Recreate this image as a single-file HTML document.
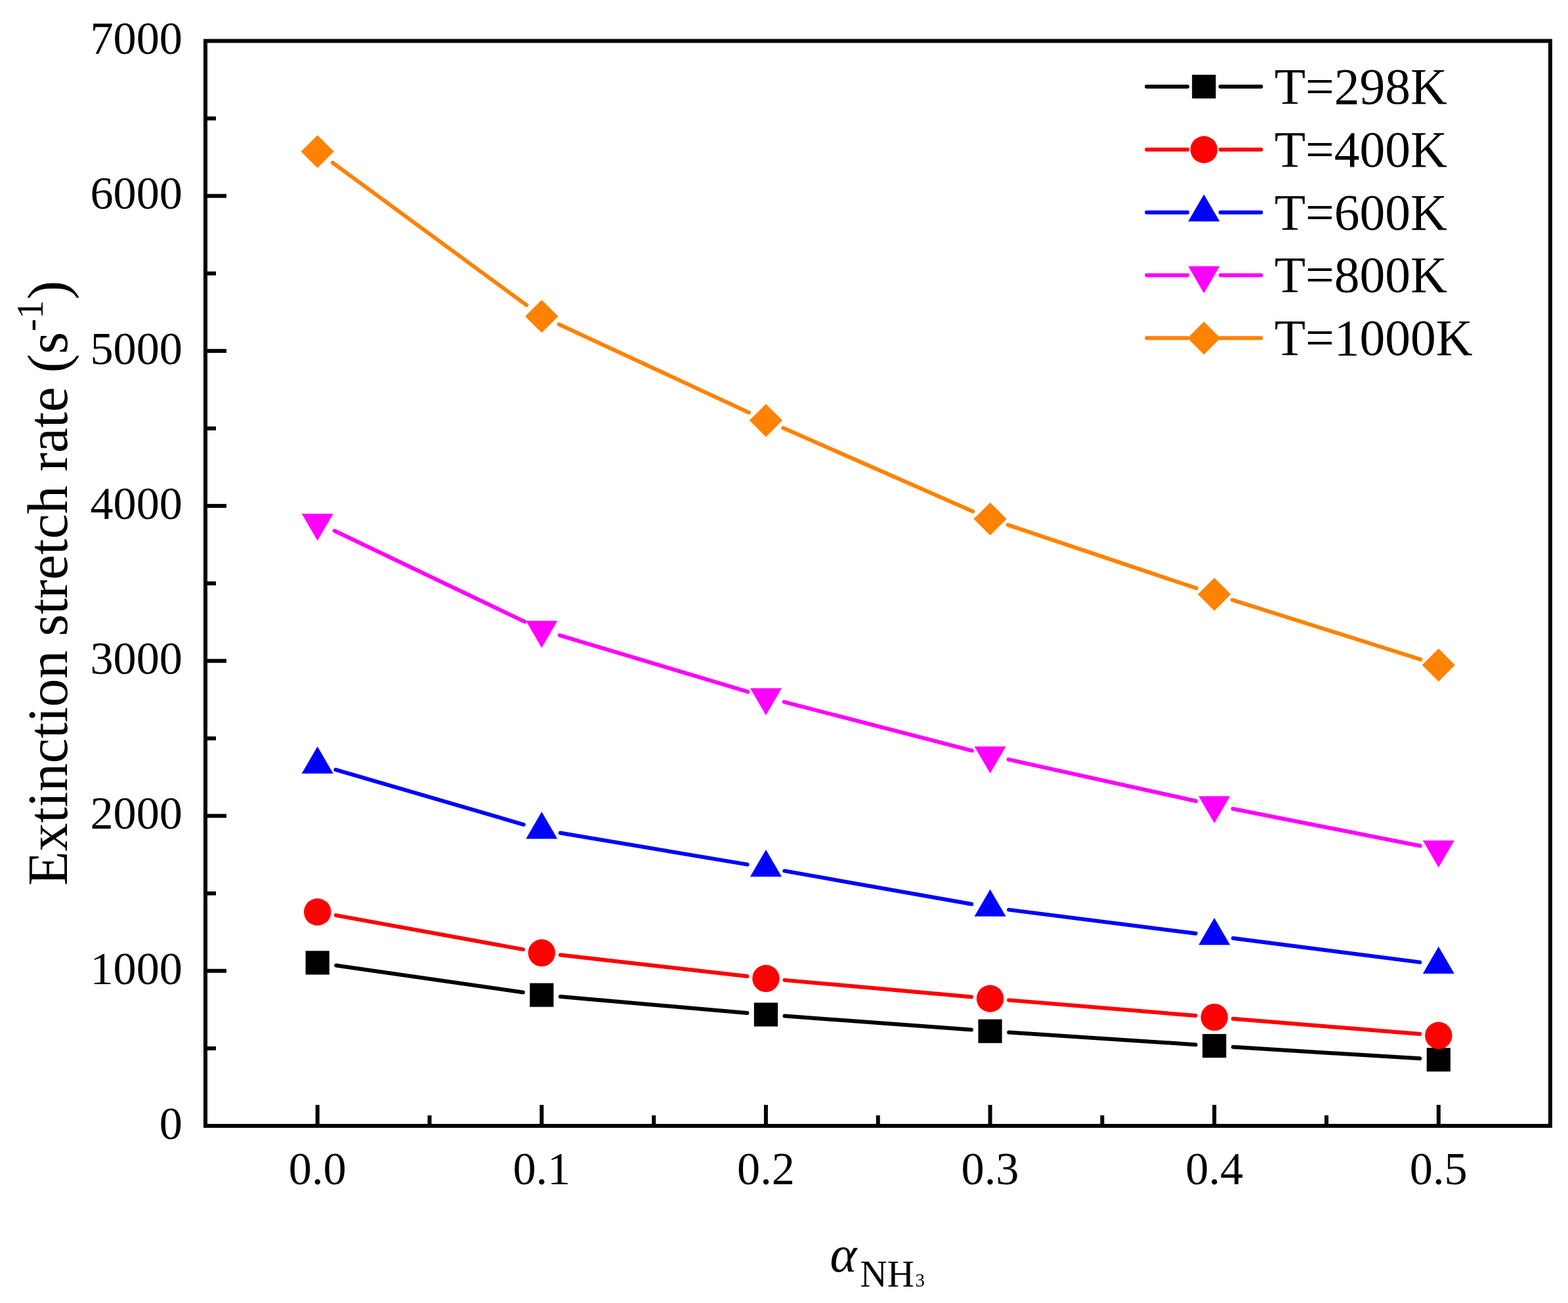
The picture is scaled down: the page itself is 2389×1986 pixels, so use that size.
<!DOCTYPE html>
<html lang="en">
<head>
<meta charset="utf-8">
<title>Extinction stretch rate</title>
<style>
html,body{margin:0;padding:0;background:#fff;}
body{width:2389px;height:1986px;overflow:hidden;}
svg{display:block;}
text{font-family:"Liberation Serif",serif;fill:#000;}
</style>
</head>
<body>
<svg width="2389" height="1986" viewBox="0 0 2389 1986">
<rect x="0" y="0" width="2389" height="1986" fill="#ffffff"/>
<g fill="none" stroke-width="6" stroke-linecap="round">
<line x1="512.11" y1="1471.49" x2="796.91" y2="1512.51" stroke="#000000"/>
<line x1="853.91" y1="1519.09" x2="1138.35" y2="1543.91" stroke="#000000"/>
<line x1="1195.56" y1="1548.52" x2="1479.94" y2="1569.58" stroke="#000000"/>
<line x1="1537.2" y1="1573.58" x2="1821.54" y2="1592.22" stroke="#000000"/>
<line x1="1878.83" y1="1595.86" x2="2163.15" y2="1613.34" stroke="#000000"/>
<line x1="511.93" y1="1395.15" x2="797.09" y2="1447.15" stroke="#ff0000"/>
<line x1="853.83" y1="1455.56" x2="1138.43" y2="1488.04" stroke="#ff0000"/>
<line x1="1195.52" y1="1493.87" x2="1479.98" y2="1519.43" stroke="#ff0000"/>
<line x1="1537.16" y1="1524.38" x2="1821.58" y2="1548.02" stroke="#ff0000"/>
<line x1="1878.78" y1="1552.74" x2="2163.2" y2="1575.96" stroke="#ff0000"/>
<line x1="511.25" y1="1173.23" x2="797.77" y2="1256.77" stroke="#0000ff"/>
<line x1="853.62" y1="1269.57" x2="1138.64" y2="1317.63" stroke="#0000ff"/>
<line x1="1195.2" y1="1327.41" x2="1480.3" y2="1377.99" stroke="#0000ff"/>
<line x1="1537.03" y1="1386.62" x2="1821.71" y2="1422.78" stroke="#0000ff"/>
<line x1="1878.65" y1="1430.06" x2="2163.33" y2="1466.64" stroke="#0000ff"/>
<line x1="509.59" y1="809.08" x2="799.43" y2="947.62" stroke="#ff00ff"/>
<line x1="852.8" y1="968.26" x2="1139.46" y2="1054.44" stroke="#ff00ff"/>
<line x1="1194.72" y1="1069.91" x2="1480.78" y2="1144.19" stroke="#ff00ff"/>
<line x1="1536.58" y1="1157.62" x2="1822.16" y2="1220.98" stroke="#ff00ff"/>
<line x1="1878.33" y1="1232.77" x2="2163.65" y2="1289.23" stroke="#ff00ff"/>
<line x1="506.82" y1="248" x2="802.2" y2="465.2" stroke="#ff8200"/>
<line x1="851.35" y1="494.29" x2="1140.91" y2="628.71" stroke="#ff8200"/>
<line x1="1193.21" y1="652.35" x2="1482.29" y2="779.45" stroke="#ff8200"/>
<line x1="1535.76" y1="800.14" x2="1822.98" y2="896.66" stroke="#ff8200"/>
<line x1="1877.55" y1="914.44" x2="2164.43" y2="1005.06" stroke="#ff8200"/>
</g>
<g>
<rect x="465.6" y="1449.3" width="36.2" height="36.2" fill="#000000"/>
<rect x="807.22" y="1498.5" width="36.2" height="36.2" fill="#000000"/>
<rect x="1148.84" y="1528.3" width="36.2" height="36.2" fill="#000000"/>
<rect x="1490.46" y="1553.6" width="36.2" height="36.2" fill="#000000"/>
<rect x="1832.08" y="1576" width="36.2" height="36.2" fill="#000000"/>
<rect x="2173.7" y="1597" width="36.2" height="36.2" fill="#000000"/>
<circle cx="483.7" cy="1390" r="20.7" fill="#ff0000"/>
<circle cx="825.32" cy="1452.3" r="20.7" fill="#ff0000"/>
<circle cx="1166.94" cy="1491.3" r="20.7" fill="#ff0000"/>
<circle cx="1508.56" cy="1522" r="20.7" fill="#ff0000"/>
<circle cx="1850.18" cy="1550.4" r="20.7" fill="#ff0000"/>
<circle cx="2191.8" cy="1578.3" r="20.7" fill="#ff0000"/>
<polygon points="459.7,1178.93 507.7,1178.93 483.7,1137.73" fill="#0000ff"/>
<polygon points="801.32,1278.53 849.32,1278.53 825.32,1237.33" fill="#0000ff"/>
<polygon points="1142.94,1336.13 1190.94,1336.13 1166.94,1294.93" fill="#0000ff"/>
<polygon points="1484.56,1396.73 1532.56,1396.73 1508.56,1355.53" fill="#0000ff"/>
<polygon points="1826.18,1440.13 1874.18,1440.13 1850.18,1398.93" fill="#0000ff"/>
<polygon points="2167.8,1484.03 2215.8,1484.03 2191.8,1442.83" fill="#0000ff"/>
<polygon points="459.7,782.97 507.7,782.97 483.7,824.17" fill="#ff00ff"/>
<polygon points="801.32,946.27 849.32,946.27 825.32,987.47" fill="#ff00ff"/>
<polygon points="1142.94,1048.97 1190.94,1048.97 1166.94,1090.17" fill="#ff00ff"/>
<polygon points="1484.56,1137.67 1532.56,1137.67 1508.56,1178.87" fill="#ff00ff"/>
<polygon points="1826.18,1213.47 1874.18,1213.47 1850.18,1254.67" fill="#ff00ff"/>
<polygon points="2167.8,1281.07 2215.8,1281.07 2191.8,1322.27" fill="#ff00ff"/>
<polygon points="458.6,231 483.7,205.9 508.8,231 483.7,256.1" fill="#ff8200"/>
<polygon points="800.22,482.2 825.32,457.1 850.42,482.2 825.32,507.3" fill="#ff8200"/>
<polygon points="1141.84,640.8 1166.94,615.7 1192.04,640.8 1166.94,665.9" fill="#ff8200"/>
<polygon points="1483.46,791 1508.56,765.9 1533.66,791 1508.56,816.1" fill="#ff8200"/>
<polygon points="1825.08,905.8 1850.18,880.7 1875.28,905.8 1850.18,930.9" fill="#ff8200"/>
<polygon points="2166.7,1013.7 2191.8,988.6 2216.9,1013.7 2191.8,1038.8" fill="#ff8200"/>
</g>
<g stroke="#000" stroke-width="6" fill="none" stroke-linecap="butt">
<rect x="313" y="62.4" width="2049" height="1653.6"/>
<line x1="313" y1="1597.89" x2="329" y2="1597.89"/>
<line x1="313" y1="1479.77" x2="345" y2="1479.77"/>
<line x1="313" y1="1361.66" x2="329" y2="1361.66"/>
<line x1="313" y1="1243.54" x2="345" y2="1243.54"/>
<line x1="313" y1="1125.43" x2="329" y2="1125.43"/>
<line x1="313" y1="1007.31" x2="345" y2="1007.31"/>
<line x1="313" y1="889.2" x2="329" y2="889.2"/>
<line x1="313" y1="771.09" x2="345" y2="771.09"/>
<line x1="313" y1="652.97" x2="329" y2="652.97"/>
<line x1="313" y1="534.86" x2="345" y2="534.86"/>
<line x1="313" y1="416.74" x2="329" y2="416.74"/>
<line x1="313" y1="298.63" x2="345" y2="298.63"/>
<line x1="313" y1="180.51" x2="329" y2="180.51"/>
<line x1="483.7" y1="1716" x2="483.7" y2="1684"/>
<line x1="654.51" y1="1716" x2="654.51" y2="1700"/>
<line x1="825.32" y1="1716" x2="825.32" y2="1684"/>
<line x1="996.13" y1="1716" x2="996.13" y2="1700"/>
<line x1="1166.94" y1="1716" x2="1166.94" y2="1684"/>
<line x1="1337.75" y1="1716" x2="1337.75" y2="1700"/>
<line x1="1508.56" y1="1716" x2="1508.56" y2="1684"/>
<line x1="1679.37" y1="1716" x2="1679.37" y2="1700"/>
<line x1="1850.18" y1="1716" x2="1850.18" y2="1684"/>
<line x1="2020.99" y1="1716" x2="2020.99" y2="1700"/>
<line x1="2191.8" y1="1716" x2="2191.8" y2="1684"/>
</g>
<g font-size="70.3" text-anchor="end">
<text x="278" y="1735.8">0</text>
<text x="278" y="1499.57">1000</text>
<text x="278" y="1263.34">2000</text>
<text x="278" y="1027.11">3000</text>
<text x="278" y="790.89">4000</text>
<text x="278" y="554.66">5000</text>
<text x="278" y="318.43">6000</text>
<text x="278" y="82.2">7000</text>
</g>
<g font-size="70.3" text-anchor="middle">
<text x="483.7" y="1805">0.0</text>
<text x="825.32" y="1805">0.1</text>
<text x="1166.94" y="1805">0.2</text>
<text x="1508.56" y="1805">0.3</text>
<text x="1850.18" y="1805">0.4</text>
<text x="2191.8" y="1805">0.5</text>
</g>
<text transform="translate(102,1350) rotate(-90)" font-size="86.1">Extinction stretch rate (s<tspan font-size="57" dx="1" dy="-37.5">-1</tspan><tspan dx="1" dy="37.5">)</tspan></text>
<text font-size="78"><tspan x="1264.5" y="1937.8" font-style="italic">α</tspan><tspan x="1310.5" y="1960.5" font-size="57">NH</tspan><tspan x="1394.5" y="1960.5" font-size="29">3</tspan></text>
<g>
<g fill="none" stroke="#000000" stroke-width="6" stroke-linecap="round"><line x1="1747.1" y1="132" x2="1809.1" y2="132"/><line x1="1859.5" y1="132" x2="1921.3" y2="132"/></g>
<rect x="1816.2" y="113.9" width="36.2" height="36.2" fill="#000000"/>
<text x="1941.7" y="157.7" font-size="77.5">T=298K</text>
<g fill="none" stroke="#ff0000" stroke-width="6" stroke-linecap="round"><line x1="1747.1" y1="228" x2="1809.1" y2="228"/><line x1="1859.5" y1="228" x2="1921.3" y2="228"/></g>
<circle cx="1834.3" cy="228" r="20.7" fill="#ff0000"/>
<text x="1941.7" y="253.7" font-size="77.5">T=400K</text>
<g fill="none" stroke="#0000ff" stroke-width="6" stroke-linecap="round"><line x1="1747.1" y1="323.8" x2="1809.1" y2="323.8"/><line x1="1859.5" y1="323.8" x2="1921.3" y2="323.8"/></g>
<polygon points="1810.3,337.53 1858.3,337.53 1834.3,296.33" fill="#0000ff"/>
<text x="1941.7" y="349.5" font-size="77.5">T=600K</text>
<g fill="none" stroke="#ff00ff" stroke-width="6" stroke-linecap="round"><line x1="1747.1" y1="419.5" x2="1809.1" y2="419.5"/><line x1="1859.5" y1="419.5" x2="1921.3" y2="419.5"/></g>
<polygon points="1810.3,405.77 1858.3,405.77 1834.3,446.97" fill="#ff00ff"/>
<text x="1941.7" y="445.2" font-size="77.5">T=800K</text>
<g fill="none" stroke="#ff8200" stroke-width="6" stroke-linecap="round"><line x1="1747.1" y1="515.3" x2="1809.1" y2="515.3"/><line x1="1859.5" y1="515.3" x2="1921.3" y2="515.3"/></g>
<polygon points="1809.2,515.3 1834.3,490.2 1859.4,515.3 1834.3,540.4" fill="#ff8200"/>
<text x="1941.7" y="541" font-size="77.5">T=1000K</text>
</g>
</svg>
</body>
</html>
